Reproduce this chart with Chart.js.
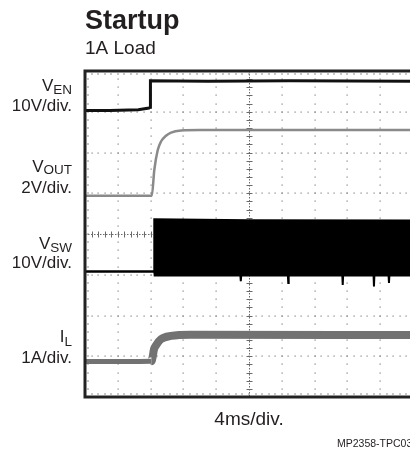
<!DOCTYPE html>
<html><head><meta charset="utf-8">
<script src="https://cdn.jsdelivr.net/npm/chart.js@4.4.1/dist/chart.umd.min.js"></script>
<style>
html,body{margin:0;padding:0;background:#fff;overflow:hidden;width:410px;height:455px}
#wrap{position:absolute;left:0;top:0;width:430px;height:455px}
</style></head><body>
<div id="wrap"><canvas id="c" width="430" height="455"></canvas></div>
<script>
// ---------- scope settings ----------
const msPerDiv = 4;          // 4ms/div.
const xDivisions = 10;
const yDivisions = 8;
const minorPerDiv = 5;

// ---------- traces (time in ms, level in screen divisions from bottom) ----------
const venTime  = [0, 3.0, 6.5, 7.8, 7.96, 7.98, 15, 25, 40];
const venDiv   = [7.03, 7.03, 7.05, 7.09, 7.11, 7.76, 7.75, 7.76, 7.75];

const voutTime = [0, 8.15, 8.45, 8.87, 9.27, 9.88, 10.49, 11.71, 14, 40];
const voutDiv  = [4.94, 4.94, 5.57, 6.06, 6.27, 6.41, 6.49, 6.54, 6.55, 6.55];

const vswHighTime = [0, 8.42, 8.45, 20, 40];
const vswHighDiv  = [3.08, 3.08, 4.36, 4.34, 4.33];
const vswLowTime  = [0, 8.45, 8.5, 18.95, 19.0, 19.05, 24.74, 24.79, 24.84, 31.38, 31.43, 31.48, 35.19, 35.24, 35.29, 37.02, 37.07, 37.12, 40];
const vswLowDiv   = [3.08, 3.08, 2.98, 2.98, 2.84, 2.98, 2.98, 2.80, 2.98, 2.98, 2.75, 2.98, 2.98, 2.71, 2.98, 2.98, 2.80, 2.98, 2.98];

const ilTime = [0, 8.1, 8.25, 8.4, 8.7, 9.27, 10.49, 12.9, 40];
const ilDiv  = [0.87, 0.88, 0.98, 1.16, 1.28, 1.42, 1.50, 1.53, 1.52];

// ---------- texts ----------
const titleText = 'Startup';
const subtitleText = '1A Load';
const xAxisText = '4ms/div.';
const footText = 'MP2358-TPC03';
const chMain  = ['V', 'V', 'V', 'I'];
const chSub   = ['EN', 'OUT', 'SW', 'L'];
const chScale = ['10V/div.', '2V/div.', '10V/div.', '1A/div.'];

// label layout (pixel baselines) kept separately from data
const chLayout = [
  {main: 91, sub: 93.5, scale: 110.5},
  {main: 171.5, sub: 173.5, scale: 192.5},
  {main: 249, sub: 251.5, scale: 267.5},
  {main: 341.5, sub: 345.5, scale: 363}
];

const pts = (t, v) => t.map((x, i) => ({x, y: v[i]}));
const FONT = "'Liberation Sans', Arial, Helvetica, sans-serif";

const gridPlugin = {
  id: 'scopeGrid',
  beforeDatasetsDraw(chart) {
    const {ctx, chartArea: a, scales: {x, y}} = chart;
    ctx.save();
    ctx.fillStyle = '#808080';
    const nx = xDivisions * minorPerDiv, ny = yDivisions * minorPerDiv;
    for (let i = 1; i < xDivisions; i++) {
      if (i === xDivisions / 2) continue;
      const px = Math.round(x.getPixelForValue(i * msPerDiv)) - 0.5;
      for (let k = 1; k < ny; k++) {
        const py = Math.round(y.getPixelForValue(k / minorPerDiv));
        ctx.fillRect(px, py - 0.5, 1.2, 1.2);
      }
    }
    for (let j = 1; j < yDivisions; j++) {
      if (j === yDivisions / 2) continue;
      const py = Math.round(y.getPixelForValue(j)) - 0.5;
      for (let k = 1; k < nx; k++) {
        const px = Math.round(x.getPixelForValue(k * msPerDiv / minorPerDiv));
        ctx.fillRect(px - 0.5, py, 1.2, 1.2);
      }
    }
    ctx.strokeStyle = '#6a6a6a';
    ctx.lineWidth = 1;
    const cx = Math.round(x.getPixelForValue(xDivisions / 2 * msPerDiv)) + 0.5;
    const cy = Math.round(y.getPixelForValue(yDivisions / 2)) + 0.5;
    ctx.setLineDash([1.5, 1.5]);
    ctx.beginPath();
    ctx.moveTo(cx, a.top); ctx.lineTo(cx, a.bottom);
    ctx.moveTo(a.left, cy); ctx.lineTo(a.right, cy);
    ctx.stroke();
    ctx.setLineDash([]);
    ctx.beginPath();
    for (let k = 1; k < ny; k++) {
      const py = Math.round(y.getPixelForValue(k / minorPerDiv)) + 0.5;
      ctx.moveTo(cx - 3, py); ctx.lineTo(cx + 3, py);
    }
    for (let k = 1; k < nx; k++) {
      const px = Math.round(x.getPixelForValue(k * msPerDiv / minorPerDiv)) + 0.5;
      ctx.moveTo(px, cy - 3); ctx.lineTo(px, cy + 3);
    }
    ctx.stroke();
    ctx.fillStyle = '#909090';
    for (let k = 1; k < nx; k++) {
      const px = Math.round(x.getPixelForValue(k * msPerDiv / minorPerDiv));
      ctx.fillRect(px - 0.5, a.bottom - 4, 1, 2);
      ctx.fillRect(px - 0.5, a.top + 2, 1, 2);
    }
    for (let k = 1; k < ny; k++) {
      const py = Math.round(y.getPixelForValue(k / minorPerDiv));
      ctx.fillRect(a.left + 2, py - 0.5, 2, 1);
    }
    ctx.restore();
  },
  afterDatasetsDraw(chart) {
    const {ctx, chartArea: a} = chart;
    ctx.save();
    ctx.strokeStyle = '#222';
    ctx.lineWidth = 3;
    ctx.strokeRect(a.left, a.top, a.right - a.left, a.bottom - a.top);
    ctx.restore();
  },
  afterDraw(chart) {
    const {ctx, scales: {x}} = chart;
    ctx.save();
    ctx.fillStyle = '#231f20';
    ctx.textAlign = 'left';
    ctx.font = `bold 27px ${FONT}`;
    ctx.fillText(titleText, 85, 29);
    ctx.font = `19px ${FONT}`;
    ctx.fillText(subtitleText, 85, 54);
    const rightX = 72;
    for (let i = 0; i < chMain.length; i++) {
      const L = chLayout[i];
      ctx.font = `13.5px ${FONT}`;
      const sw = ctx.measureText(chSub[i]).width;
      ctx.textAlign = 'right';
      ctx.fillText(chSub[i], rightX, L.sub);
      ctx.font = `17px ${FONT}`;
      ctx.fillText(chMain[i], rightX - sw, L.main);
      ctx.fillText(chScale[i], rightX, L.scale);
    }
    ctx.textAlign = 'center';
    ctx.font = `19px ${FONT}`;
    ctx.fillText(xAxisText, x.getPixelForValue(xDivisions / 2 * msPerDiv), 425);
    ctx.textAlign = 'left';
    ctx.font = `10.5px ${FONT}`;
    ctx.fillText(footText, 337, 447);
    ctx.restore();
  }
};

new Chart(document.getElementById('c'), {
  type: 'line',
  data: {
    datasets: [
      {label: 'VEN', data: pts(venTime, venDiv), borderColor: '#111', borderWidth: 3, pointRadius: 0, tension: 0},
      {label: 'VOUT', data: pts(voutTime, voutDiv), borderColor: '#8a8a8a', borderWidth: 2.5, pointRadius: 0, cubicInterpolationMode: 'monotone'},
      {label: 'VSW high', data: pts(vswHighTime, vswHighDiv), borderColor: '#000', backgroundColor: '#000', borderWidth: 2, pointRadius: 0, fill: '+1', tension: 0},
      {label: 'VSW low', data: pts(vswLowTime, vswLowDiv), borderColor: '#000', borderWidth: 2, pointRadius: 0, fill: false, tension: 0},
      {label: 'IL', data: pts(ilTime, ilDiv), borderColor: '#727272', borderWidth: 8, pointRadius: 0, cubicInterpolationMode: 'monotone',
        segment: {borderWidth: c => (c.p0.parsed.x < 8.1 ? 5 : 8)}}
    ]
  },
  options: {
    responsive: false,
    animation: false,
    events: [],
    layout: {padding: {left: 85, top: 71, right: 17, bottom: 58}},
    plugins: {legend: {display: false}, tooltip: {enabled: false}, title: {display: false}},
    scales: {
      x: {type: 'linear', min: 0, max: xDivisions * msPerDiv, display: false},
      y: {type: 'linear', min: 0, max: yDivisions, display: false}
    }
  },
  plugins: [gridPlugin]
});
</script>
</body></html>
